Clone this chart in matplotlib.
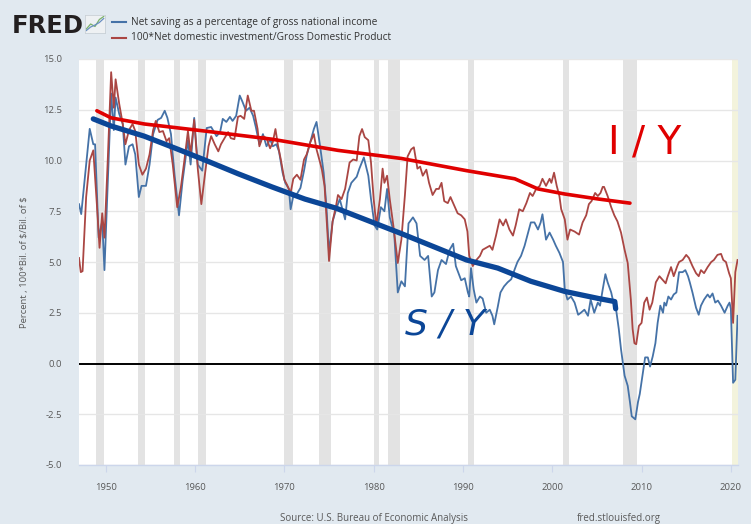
import matplotlib
matplotlib.use("Agg")
import matplotlib.pyplot as plt

# ---------------- data ----------------
sav_years = [1947.0, 1947.25, 1948.2, 1948.6, 1948.8, 1949.2, 1949.6, 1949.85, 1950.3, 1950.6,
             1950.9, 1951.1, 1951.5, 1951.9, 1952.2, 1952.6, 1953.0, 1953.3, 1953.7, 1954.0,
             1954.5, 1954.9, 1955.3, 1955.8, 1956.2, 1956.6, 1956.9, 1957.3, 1957.7, 1958.2,
             1958.6, 1959.2, 1959.5, 1959.9, 1960.3, 1960.8, 1961.3, 1961.8, 1962.4, 1962.8,
             1963.1, 1963.5, 1963.9, 1964.2, 1964.6, 1965.0, 1965.3, 1965.7, 1966.1, 1966.5,
             1966.8, 1967.2, 1967.6, 1968.0, 1968.4, 1968.7, 1969.1, 1969.4, 1969.8, 1970.1,
             1970.5, 1970.7, 1971.0, 1971.4, 1971.8, 1972.2, 1972.5, 1972.9, 1973.3, 1973.6,
             1974.0, 1974.4, 1974.7, 1975.0, 1975.4, 1975.8, 1976.2, 1976.8, 1977.1, 1977.5,
             1978.1, 1978.4, 1978.9, 1979.4, 1979.7, 1980.1, 1980.4, 1980.8, 1981.2, 1981.5,
             1981.8, 1982.3, 1982.7, 1983.1, 1983.5, 1983.9, 1984.4, 1984.8, 1985.2, 1985.7,
             1986.1, 1986.5, 1986.8, 1987.2, 1987.6, 1988.1, 1988.5, 1988.9, 1989.2, 1989.8,
             1990.2, 1990.55, 1990.7, 1990.9, 1991.2, 1991.5, 1991.9, 1992.2, 1992.6, 1993.0,
             1993.3, 1993.5, 1993.9, 1994.2, 1994.6, 1995.0, 1995.4, 1995.8, 1996.1, 1996.5,
             1996.9, 1997.3, 1997.6, 1998.0, 1998.4, 1998.7, 1998.9, 1999.3, 1999.7, 2000.1,
             2000.4, 2000.8, 2001.2, 2001.4, 2001.7, 2002.1, 2002.5, 2002.9, 2003.2, 2003.6,
             2004.0, 2004.3, 2004.7, 2005.1, 2005.35, 2005.65, 2005.95, 2006.2, 2006.6, 2006.85,
             2007.15, 2007.45, 2007.7, 2008.1, 2008.45, 2008.7, 2008.9, 2009.3, 2009.6, 2009.8,
             2010.1, 2010.4, 2010.7, 2010.95, 2011.25, 2011.55, 2011.8, 2012.1, 2012.4, 2012.55,
             2012.75, 2013.0, 2013.3, 2013.6, 2013.9, 2014.2, 2014.6, 2014.9, 2015.2, 2015.4,
             2015.7, 2016.1, 2016.4, 2016.65, 2017.0, 2017.4, 2017.65, 2017.95, 2018.25, 2018.55,
             2018.9, 2019.3, 2019.65, 2019.85, 2020.0, 2020.25, 2020.5, 2020.75]
sav_vals = [7.85, 7.36, 11.56, 10.8, 10.8, 6.2, 7.0, 4.6, 9.8, 13.3,
            11.5, 13.1, 12.3, 11.8, 9.8, 10.7, 10.8, 10.3, 8.2, 8.75,
            8.75, 9.8, 11.3, 12.0, 12.1, 12.45, 12.1, 11.3, 9.3, 7.3,
            9.0, 11.0, 9.8, 12.1, 9.8, 9.5, 11.6, 11.65, 11.2, 11.4,
            12.05, 11.9, 12.15, 11.95, 12.2, 13.2, 12.9, 12.45, 12.6, 12.2,
            11.65, 10.8, 11.3, 10.7, 11.05, 10.7, 10.8, 10.45, 9.4, 8.9,
            8.6, 7.6, 8.25, 8.35, 8.65, 9.5, 10.25, 10.9, 11.55, 11.9,
            10.7, 9.4, 7.8, 5.45, 7.0, 7.6, 8.1, 7.1, 8.4, 8.9,
            9.2, 9.6, 10.15, 9.25, 8.1, 6.8, 6.6, 7.7, 7.5, 8.6,
            7.2, 6.4, 3.5, 4.05, 3.8, 6.9, 7.2, 6.9, 5.3, 5.1,
            5.3, 3.3, 3.5, 4.6, 5.1, 4.9, 5.6, 5.9, 4.8, 4.1,
            4.2, 3.5, 3.3, 4.7, 3.65, 3.0, 3.3, 3.2, 2.5, 2.65,
            2.35, 1.93, 2.8, 3.5, 3.8, 4.0, 4.15, 4.65, 5.0, 5.3,
            5.8, 6.45, 6.95, 6.95, 6.6, 6.95, 7.35, 6.1, 6.45, 6.1,
            5.8, 5.45, 5.0, 3.65, 3.15, 3.3, 3.0, 2.4, 2.5, 2.65,
            2.35, 3.15, 2.5, 3.0, 2.85, 3.65, 4.4, 4.0, 3.5, 3.0,
            2.65, 1.7, 0.7, -0.6, -1.1, -1.9, -2.6, -2.75, -1.9, -1.5,
            -0.6, 0.3, 0.3, -0.15, 0.35, 1.0, 2.0, 2.85, 2.5, 3.0,
            2.85, 3.3, 3.15, 3.4, 3.5, 4.5, 4.5, 4.6, 4.3, 4.0,
            3.5, 2.75, 2.4, 2.85, 3.15, 3.4, 3.25, 3.45, 3.0, 3.1,
            2.85, 2.5, 2.85, 3.0, 2.7, -0.95, -0.8, 2.35]

inv_years = [1947.0, 1947.2, 1947.4, 1947.8, 1948.2, 1948.6, 1949.0, 1949.3, 1949.6, 1949.85,
             1950.2, 1950.6, 1950.9, 1951.1, 1951.5, 1951.9, 1952.2, 1952.6, 1953.0, 1953.3,
             1953.7, 1954.1, 1954.5, 1954.9, 1955.3, 1955.6, 1956.0, 1956.4, 1956.8, 1957.1,
             1957.5, 1958.0, 1958.4, 1958.8, 1959.2, 1959.5, 1959.9, 1960.3, 1960.7, 1961.1,
             1961.5, 1961.8, 1962.2, 1962.6, 1962.9, 1963.3, 1963.7, 1964.0, 1964.4, 1964.8,
             1965.1, 1965.5, 1965.9, 1966.3, 1966.6, 1967.0, 1967.2, 1967.6, 1968.0, 1968.4,
             1968.7, 1969.0, 1969.3, 1969.6, 1970.0, 1970.3, 1970.7, 1971.0, 1971.4, 1971.8,
             1972.2, 1972.5, 1972.9, 1973.3, 1973.6, 1974.0, 1974.2, 1974.5, 1974.8, 1975.0,
             1975.4, 1975.8, 1976.0, 1976.4, 1976.8, 1977.3, 1977.7, 1978.1, 1978.4, 1978.7,
             1979.0, 1979.4, 1979.7, 1980.0, 1980.3, 1980.7, 1981.0, 1981.2, 1981.5, 1981.8,
             1982.2, 1982.7, 1983.1, 1983.5, 1983.8, 1984.2, 1984.5, 1984.9, 1985.2, 1985.5,
             1985.9, 1986.2, 1986.6, 1987.0, 1987.3, 1987.6, 1987.9, 1988.3, 1988.6, 1989.0,
             1989.4, 1989.8, 1990.2, 1990.5, 1990.7, 1991.1, 1991.5, 1991.9, 1992.2, 1992.6,
             1993.0, 1993.3, 1993.7, 1994.1, 1994.5, 1994.8, 1995.2, 1995.6, 1995.9, 1996.3,
             1996.7, 1997.1, 1997.5, 1997.8, 1998.2, 1998.6, 1998.9, 1999.3, 1999.7, 1999.9,
             2000.2, 2000.5, 2000.8, 2001.0, 2001.4, 2001.7, 2002.0, 2002.5, 2003.0, 2003.4,
             2003.8, 2004.1, 2004.4, 2004.8, 2005.1, 2005.4, 2005.65, 2005.8, 2006.2, 2006.6,
             2006.95, 2007.3, 2007.7, 2008.1, 2008.45, 2008.8, 2009.0, 2009.2, 2009.4, 2009.7,
             2010.0, 2010.3, 2010.6, 2010.9, 2011.2, 2011.6, 2012.0, 2012.3, 2012.7, 2012.9,
             2013.3, 2013.6, 2014.0, 2014.2, 2014.6, 2015.0, 2015.3, 2015.7, 2016.1, 2016.4,
             2016.65, 2017.0, 2017.4, 2017.8, 2018.1, 2018.5, 2018.9, 2019.15, 2019.45, 2019.8,
             2020.0, 2020.25, 2020.5, 2020.75]
inv_vals = [5.2, 4.5, 4.55, 8.2, 10.0, 10.5, 7.85, 5.7, 7.4, 6.2,
            9.8, 14.35, 12.6, 14.0, 12.8, 11.8, 10.8, 11.5, 11.8, 11.45,
            9.8, 9.3, 9.6, 10.3, 11.5, 11.95, 11.4, 11.45, 10.95, 11.1,
            9.8, 7.7, 8.65, 10.0, 11.45, 10.3, 12.0, 9.6, 7.85, 9.3,
            10.7, 11.2, 10.8, 10.45, 10.8, 11.1, 11.4, 11.1, 11.05, 12.15,
            12.2, 12.05, 13.2, 12.45, 12.45, 11.55, 10.7, 11.2, 11.1, 10.6,
            10.9, 11.55, 10.7, 10.05, 9.05, 8.8, 8.4, 9.1, 9.3, 9.05,
            10.05, 10.3, 10.9, 11.3, 10.55, 9.9, 9.55, 8.75, 6.6, 5.05,
            7.0, 7.8, 8.3, 8.1, 8.6, 9.9, 10.05, 10.0, 11.2, 11.55,
            11.15, 11.0, 9.9, 8.1, 6.8, 8.1, 9.6, 8.9, 9.25, 8.1,
            6.8, 4.95, 6.1, 8.3, 10.2, 10.55, 10.65, 9.6, 9.7, 9.25,
            9.55, 8.9, 8.3, 8.6, 8.6, 8.9, 8.0, 7.9, 8.2, 7.8,
            7.4, 7.3, 7.1, 6.5, 5.3, 4.8, 5.1, 5.3, 5.6, 5.7,
            5.8, 5.6, 6.3, 7.1, 6.8, 7.1, 6.6, 6.3, 6.8, 7.6,
            7.5, 7.9, 8.4, 8.25, 8.6, 8.75, 9.1, 8.75, 9.1, 8.9,
            9.4, 8.75, 8.25, 7.6, 7.1, 6.1, 6.6, 6.5, 6.35, 6.95,
            7.3, 7.85, 8.0, 8.4, 8.25, 8.4, 8.7, 8.7, 8.25, 7.7,
            7.3, 7.0, 6.45, 5.6, 4.95, 3.15, 1.7, 1.0, 0.95, 1.85,
            2.0, 3.0, 3.25, 2.65, 3.0, 4.0, 4.3, 4.15, 3.95, 4.25,
            4.75, 4.3, 4.8, 5.0, 5.1, 5.35, 5.2, 4.8, 4.45, 4.3,
            4.6, 4.45, 4.75, 5.0, 5.1, 5.35, 5.4, 5.1, 5.0, 4.45,
            4.2, 2.0, 4.5, 5.1]

# hand-drawn trend lines
iy_trend_years = [1949.0, 1950.6, 1954.3, 1961.1, 1968.6, 1976.0, 1983.1, 1990.4,
                  1995.8, 1998.4, 2001.4, 2005.2, 2008.7]
iy_trend_vals = [12.45, 12.1, 11.8, 11.45, 11.05, 10.5, 10.1, 9.5, 9.1, 8.6, 8.35, 8.1, 7.9]
sy_trend_years = [1948.6, 1950.6, 1954.3, 1958.1, 1961.5, 1964.8, 1968.6, 1972.3, 1975.8,
                  1983.1, 1990.4, 1993.9, 1997.6, 2001.4, 2005.2, 2007.0, 2007.1]
sy_trend_vals = [12.05, 11.7, 11.2, 10.55, 9.95, 9.35, 8.7, 8.1, 7.65, 6.4, 5.1, 4.7,
                 4.05, 3.55, 3.2, 3.05, 2.7]

recessions = [(1948.92, 1949.83), (1953.58, 1954.42), (1957.67, 1958.33), (1960.33, 1961.17),
              (1969.92, 1970.92), (1973.92, 1975.25), (1980.0, 1980.58), (1981.58, 1982.92),
              (1990.58, 1991.25), (2001.25, 2001.92), (2007.92, 2009.5)]
recession_2020 = (2020.08, 2020.8)

y_ticks = [-5.0, -2.5, 0.0, 2.5, 5.0, 7.5, 10.0, 12.5, 15.0]
x_ticks = [1950, 1960, 1970, 1980, 1990, 2000, 2010, 2020]

legend_labels = ["Net saving as a percentage of gross national income",
                 "100*Net domestic investment/Gross Domestic Product"]
y_label = "Percent , 100*Bil. of $/Bil. of $"

# ---------------- styling ----------------
BG = "#e1e9f0"
BLUE = "#4572a7"
RED = "#aa4643"
TXT = "#595959"
FONT = ["Open Sans", "DejaVu Sans"]
plt.rcParams["font.family"] = FONT

W, H = 751, 524
fig = plt.figure(figsize=(W / 100, H / 100), dpi=100, facecolor=BG)
L, R, T, B = 79, 738, 59, 465
ax = fig.add_axes([L / W, (H - B) / H, (R - L) / W, (B - T) / H])
ax.set_facecolor("white")

for a, b in recessions:
    ax.axvspan(a, b, color="#e3e3e3", lw=0, zorder=0)
ax.axvspan(*recession_2020, color="#f3f3dc", lw=0, zorder=0)

for yv in y_ticks:
    if yv != 0:
        ax.axhline(yv, color="#e6e6e6", lw=1.0, zorder=1)
ax.axhline(0, color="black", lw=1.4, zorder=2)

ax.plot(sav_years, sav_vals, color=BLUE, lw=1.3, zorder=3)
ax.plot(inv_years, inv_vals, color=RED, lw=1.3, zorder=3)

ax.plot(iy_trend_years, iy_trend_vals, color="#e00000", lw=2.6, solid_capstyle="round",
        solid_joinstyle="round", zorder=4)
ax.plot(sy_trend_years, sy_trend_vals, color="#0b4697", lw=3.8, solid_capstyle="round",
        solid_joinstyle="round", zorder=4)

ax.text(2010.4, 10.9, "I / Y", color="#e00000", fontsize=28, ha="center", va="center",
        family=["DejaVu Sans"], zorder=5)
ax.text(1988.0, 1.9, "S / Y", color="#0b4697", fontsize=26, ha="center", va="center",
        family=["DejaVu Sans"], style="italic", zorder=5)

ax.set_xlim(1947.0, 2020.8)
ax.set_ylim(-5, 15)
ax.set_yticks(y_ticks)
ax.set_yticklabels([f"{v:.1f}" for v in y_ticks])
ax.set_xticks(x_ticks)
ax.set_xticklabels([str(v) for v in x_ticks])
for s in ["top", "right", "left"]:
    ax.spines[s].set_visible(False)
ax.spines["bottom"].set_color("#ccd6eb")
ax.spines["bottom"].set_linewidth(1.0)
ax.tick_params(axis="y", length=0, pad=12, labelsize=6.8, labelcolor=TXT)
ax.tick_params(axis="x", length=5, width=0.8, color="#ccd6eb", pad=8, labelsize=6.8,
               labelcolor=TXT)
ax.set_ylabel(y_label, fontsize=6.8, color=TXT, labelpad=10, parse_math=False)

# header: FRED logo and legend
fig.text(12 / W, 1 - 33 / H, "FRED", fontsize=17.5, fontweight="bold", color="#231f20",
         ha="left", va="baseline", family=["DejaVu Sans"])
icon = fig.add_axes([85 / W, 1 - 33 / H, 20 / W, 18 / H])
icon.set_facecolor("#eef1f3")
icon.plot([0, 1, 2, 3, 4], [0.5, 1.5, 1.0, 2.4, 3.0], color="#7bb26b", lw=0.9)
icon.plot([0, 1, 2, 3, 4], [0.2, 0.9, 1.3, 1.8, 2.6], color="#6a8fc2", lw=0.9)
icon.set_xlim(-0.3, 4.3)
icon.set_ylim(-0.3, 3.3)
icon.set_xticks([])
icon.set_yticks([])
for s in icon.spines.values():
    s.set_color("#c9d0d6")
    s.set_linewidth(0.6)

for i, (lab, col) in enumerate(zip(legend_labels, [BLUE, RED])):
    yy = 1 - (22 + 16 * i) / H
    fig.add_artist(plt.Line2D([112 / W, 126 / W], [yy, yy], color=col, lw=1.5))
    fig.text(131 / W, yy, lab, fontsize=7.3, color="#333333", ha="left", va="center")

fig.text(280 / W, 1 - 518 / H, "Source: U.S. Bureau of Economic Analysis", fontsize=7.0,
         color=TXT, ha="left", va="center")
fig.text(577 / W, 1 - 518 / H, "fred.stlouisfed.org", fontsize=7.0, color=TXT,
         ha="left", va="center")

fig.savefig("out.png", dpi=100, facecolor=BG)
